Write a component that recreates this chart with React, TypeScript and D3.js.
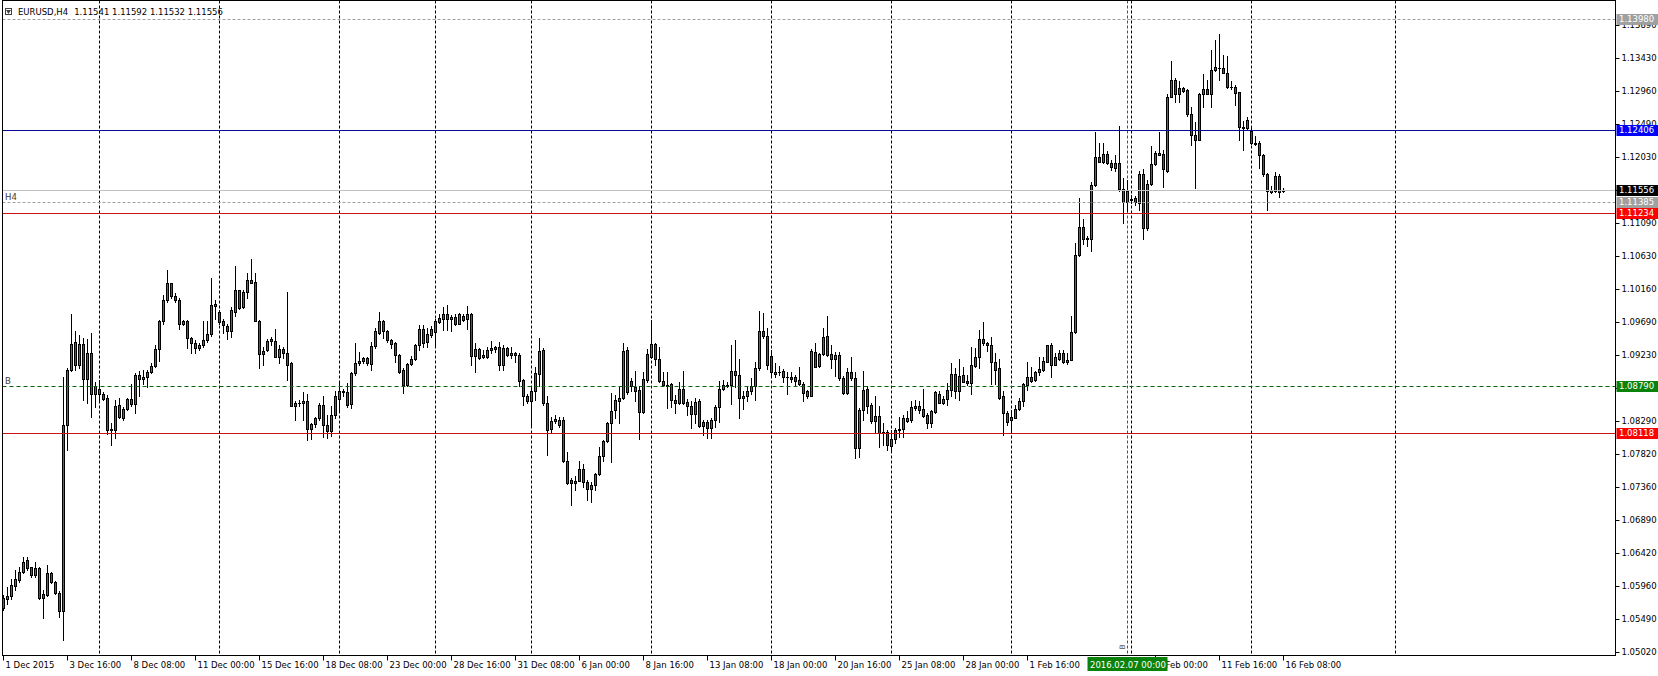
import React from "react";
import * as d3 from "d3";

const WIDTH = 1658;
const HEIGHT = 676;

const symbolName = "EURUSD,H4";
const lastQuote = [1.11541, 1.11592, 1.11532, 1.11556];

// H4 candles as [open, high, low, close], one list per trading week
const wkDec01 = [
  [1.0564, 1.0583, 1.0562, 1.0579], [1.0577, 1.0595, 1.0571, 1.0582], [1.0581, 1.0605, 1.0577, 1.0597],
  [1.0596, 1.0618, 1.059, 1.0605], [1.0604, 1.0623, 1.0601, 1.0615], [1.0615, 1.0637, 1.0614, 1.063],
  [1.0633, 1.0637, 1.0619, 1.0621], [1.0622, 1.0623, 1.0609, 1.0611], [1.0611, 1.063, 1.0609, 1.0621],
  [1.0621, 1.0622, 1.0578, 1.0579], [1.0579, 1.059, 1.055, 1.0584], [1.0583, 1.0626, 1.0582, 1.0614],
  [1.0614, 1.0616, 1.06, 1.0602], [1.0602, 1.0603, 1.0585, 1.0586], [1.0586, 1.0588, 1.0552, 1.056],
  [1.056, 1.0892, 1.052, 1.0824], [1.0823, 1.0904, 1.0788, 1.0901], [1.0901, 1.0981, 1.09, 1.0938],
  [1.0941, 1.0956, 1.0901, 1.0909], [1.0908, 1.0951, 1.0904, 1.0938], [1.0938, 1.0946, 1.0859, 1.0889],
  [1.0889, 1.0945, 1.0854, 1.0926], [1.0926, 1.0953, 1.0835, 1.0867], [1.0867, 1.0885, 1.0849, 1.0879],
];
const wkDec07 = [
  [1.0875, 1.0887, 1.0859, 1.0867], [1.0867, 1.087, 1.0859, 1.086], [1.0861, 1.0866, 1.0811, 1.0816],
  [1.0816, 1.0826, 1.0795, 1.0818], [1.0816, 1.0859, 1.0805, 1.085], [1.0852, 1.0861, 1.0834, 1.0835],
  [1.0834, 1.0849, 1.083, 1.0846], [1.0846, 1.0861, 1.0845, 1.086], [1.086, 1.0882, 1.0851, 1.0853],
  [1.0853, 1.0897, 1.084, 1.0894], [1.0894, 1.09, 1.0865, 1.0889], [1.0889, 1.0902, 1.0882, 1.0892],
  [1.0892, 1.0901, 1.0877, 1.0899], [1.0898, 1.0911, 1.0897, 1.0907], [1.0907, 1.0936, 1.0905, 1.0931],
  [1.0931, 1.0972, 1.0914, 1.097], [1.097, 1.1007, 1.0966, 1.1001], [1.1001, 1.1043, 1.0998, 1.1024],
  [1.1024, 1.1025, 1.1003, 1.1006], [1.1006, 1.101, 1.0998, 1.1], [1.1, 1.1003, 1.0959, 1.0967],
  [1.0967, 1.0972, 1.0965, 1.097], [1.097, 1.0972, 1.0932, 1.0946], [1.0946, 1.0948, 1.0925, 1.0939],
  [1.094, 1.0944, 1.0925, 1.0932], [1.0932, 1.0939, 1.0929, 1.0937], [1.0936, 1.097, 1.0934, 1.0944],
  [1.0944, 1.097, 1.0941, 1.0952], [1.0952, 1.1031, 1.095, 1.0993], [1.0992, 1.1, 1.0974, 1.0995],
];
const wkDec14 = [
  [1.0984, 1.0986, 1.0967, 1.0969], [1.0971, 1.0974, 1.0953, 1.0965], [1.0964, 1.0966, 1.0945, 1.0957],
  [1.0957, 1.0991, 1.0948, 1.0986], [1.0984, 1.1049, 1.0977, 1.1014], [1.1014, 1.1015, 1.0987, 1.0989],
  [1.0991, 1.1014, 1.0989, 1.1012], [1.1011, 1.1039, 1.1003, 1.1028], [1.1024, 1.1059, 1.1024, 1.1028],
  [1.1026, 1.1038, 1.097, 1.0971], [1.0971, 1.0972, 1.0904, 1.0924], [1.0928, 1.0934, 1.0908, 1.0924],
  [1.093, 1.0945, 1.0928, 1.0942], [1.0942, 1.0948, 1.0937, 1.0945], [1.0943, 1.0959, 1.0919, 1.092],
  [1.092, 1.0937, 1.0911, 1.0931], [1.0931, 1.0934, 1.0918, 1.0926], [1.0926, 1.1012, 1.0887, 1.0909],
  [1.0911, 1.0912, 1.085, 1.0851], [1.0851, 1.0857, 1.0831, 1.0854], [1.0854, 1.0859, 1.085, 1.0855],
  [1.0855, 1.087, 1.083, 1.0857], [1.0857, 1.0868, 1.0802, 1.0818], [1.0818, 1.0827, 1.0803, 1.0825],
  [1.0825, 1.0835, 1.0821, 1.0833], [1.0833, 1.0854, 1.0831, 1.0852], [1.0852, 1.0865, 1.0806, 1.0823],
  [1.0823, 1.0838, 1.0805, 1.0815], [1.0815, 1.085, 1.0808, 1.0837], [1.0837, 1.0871, 1.0833, 1.0865],
];
const wkDec21 = [
  [1.086, 1.0885, 1.0845, 1.0872], [1.0872, 1.0875, 1.0864, 1.087], [1.087, 1.0883, 1.0849, 1.0852],
  [1.0853, 1.0899, 1.0847, 1.0897], [1.0897, 1.0939, 1.0894, 1.0911], [1.0911, 1.0927, 1.0908, 1.0914],
  [1.0914, 1.092, 1.0911, 1.0918], [1.0918, 1.092, 1.0908, 1.0911], [1.091, 1.0941, 1.0901, 1.0935],
  [1.0935, 1.096, 1.0932, 1.0956], [1.0954, 1.0983, 1.0952, 1.0971], [1.0971, 1.0972, 1.0946, 1.0957],
  [1.0957, 1.0958, 1.0941, 1.0944], [1.0944, 1.0945, 1.0933, 1.0938], [1.0939, 1.0941, 1.0913, 1.0922],
  [1.0922, 1.0924, 1.0897, 1.0899], [1.0901, 1.0904, 1.0869, 1.088], [1.088, 1.0911, 1.0879, 1.091],
  [1.091, 1.0921, 1.0908, 1.0917], [1.0917, 1.0938, 1.0915, 1.0936], [1.0936, 1.0965, 1.093, 1.0959],
  [1.0959, 1.0965, 1.0934, 1.094], [1.0941, 1.096, 1.0934, 1.0952], [1.0951, 1.0963, 1.0948, 1.0959],
];
const wkDec28 = [
  [1.0955, 1.0974, 1.0934, 1.0971], [1.0969, 1.098, 1.0968, 1.0975], [1.0974, 1.0991, 1.0958, 1.098],
  [1.098, 1.0993, 1.0958, 1.0974], [1.0974, 1.0979, 1.0957, 1.0976], [1.0976, 1.0981, 1.0965, 1.0966],
  [1.0967, 1.0982, 1.0966, 1.098], [1.0978, 1.0981, 1.0971, 1.0972], [1.0973, 1.0992, 1.0959, 1.098],
  [1.098, 1.0982, 1.0908, 1.0921], [1.0921, 1.0939, 1.0898, 1.0931], [1.0931, 1.0932, 1.0917, 1.0918],
  [1.092, 1.0929, 1.0918, 1.0922], [1.092, 1.0934, 1.0918, 1.093], [1.093, 1.0943, 1.0925, 1.0932],
  [1.0931, 1.0935, 1.0927, 1.0934], [1.0934, 1.0941, 1.0901, 1.0908], [1.0909, 1.0937, 1.0901, 1.0932],
  [1.0932, 1.0934, 1.0921, 1.0922], [1.0923, 1.0934, 1.0918, 1.0925], [1.0925, 1.0927, 1.0912, 1.0922],
  [1.0922, 1.0925, 1.0878, 1.0886], [1.0887, 1.0888, 1.0852, 1.0864], [1.0865, 1.0867, 1.0854, 1.0858],
];
const wkJan04 = [
  [1.0857, 1.0878, 1.0824, 1.0872], [1.0872, 1.0906, 1.0859, 1.0897], [1.0896, 1.0946, 1.0878, 1.0928],
  [1.093, 1.0932, 1.0852, 1.0854], [1.0854, 1.0864, 1.0781, 1.0816], [1.0818, 1.0835, 1.0812, 1.0829],
  [1.0829, 1.0838, 1.0826, 1.0832], [1.0824, 1.0835, 1.0821, 1.0831], [1.0831, 1.0835, 1.0771, 1.0772],
  [1.0773, 1.0785, 1.074, 1.0741], [1.0746, 1.0748, 1.071, 1.0741], [1.0742, 1.0752, 1.0731, 1.0744],
  [1.0745, 1.0772, 1.0744, 1.0761], [1.0761, 1.0769, 1.0736, 1.0743], [1.0743, 1.0746, 1.0717, 1.0733],
  [1.0733, 1.0743, 1.0714, 1.0739], [1.0738, 1.0755, 1.0732, 1.0754], [1.0754, 1.0793, 1.0753, 1.078],
  [1.078, 1.0802, 1.0773, 1.0801], [1.0801, 1.0828, 1.08, 1.0827], [1.0826, 1.0869, 1.0771, 1.0844],
  [1.0845, 1.0866, 1.0833, 1.0859], [1.0858, 1.0878, 1.0826, 1.0861], [1.0861, 1.0939, 1.086, 1.0928],
  [1.093, 1.0934, 1.0868, 1.087], [1.0886, 1.089, 1.0872, 1.0878], [1.0877, 1.09, 1.0857, 1.0872],
  [1.0873, 1.0879, 1.0804, 1.0842], [1.0842, 1.0899, 1.084, 1.0888], [1.0887, 1.0931, 1.0885, 1.0924],
];
const wkJan11 = [
  [1.092, 1.0972, 1.0918, 1.0938], [1.0938, 1.0939, 1.0908, 1.0917], [1.0917, 1.0934, 1.0885, 1.0886],
  [1.0886, 1.0899, 1.0879, 1.088], [1.088, 1.0898, 1.0847, 1.0879], [1.0881, 1.0883, 1.0849, 1.0859],
  [1.0859, 1.0866, 1.084, 1.0854], [1.0854, 1.0885, 1.0853, 1.0874], [1.0874, 1.09, 1.0853, 1.0855],
  [1.0856, 1.086, 1.0838, 1.0851], [1.0851, 1.0857, 1.0819, 1.0839], [1.0839, 1.0861, 1.0826, 1.0856],
  [1.0858, 1.086, 1.0821, 1.0822], [1.0822, 1.0831, 1.0809, 1.0828], [1.0828, 1.0831, 1.0805, 1.0819],
  [1.0819, 1.0833, 1.0805, 1.0831], [1.0831, 1.0852, 1.082, 1.0849], [1.0849, 1.0886, 1.0828, 1.0874],
  [1.0874, 1.0887, 1.0873, 1.088], [1.0879, 1.0885, 1.0877, 1.088], [1.088, 1.0937, 1.0853, 1.09],
  [1.09, 1.0944, 1.0877, 1.0894], [1.0894, 1.0917, 1.0834, 1.0861], [1.0861, 1.0871, 1.0846, 1.0864],
  [1.0864, 1.0878, 1.0857, 1.0872], [1.0872, 1.089, 1.0868, 1.0879], [1.0879, 1.0913, 1.0859, 1.0904],
  [1.0904, 1.0985, 1.0901, 1.0957], [1.0957, 1.0982, 1.0947, 1.095], [1.095, 1.096, 1.0903, 1.0908],
];
const wkJan18 = [
  [1.0921, 1.093, 1.0893, 1.0898], [1.0895, 1.0911, 1.0892, 1.0899], [1.0899, 1.0907, 1.0894, 1.0898],
  [1.09, 1.0903, 1.0885, 1.0892], [1.0892, 1.0899, 1.0868, 1.0891], [1.0891, 1.0899, 1.0885, 1.0889],
  [1.0892, 1.0894, 1.0878, 1.0886], [1.0887, 1.0906, 1.088, 1.0882], [1.0882, 1.0885, 1.0858, 1.0869],
  [1.0865, 1.0873, 1.0861, 1.0871], [1.0865, 1.0931, 1.0864, 1.0928], [1.0927, 1.094, 1.0905, 1.0906],
  [1.0907, 1.0925, 1.0906, 1.0924], [1.0924, 1.096, 1.0922, 1.0948], [1.0949, 1.0977, 1.0921, 1.0923],
  [1.0924, 1.0937, 1.0904, 1.0917], [1.0917, 1.0927, 1.0893, 1.0922], [1.0922, 1.0927, 1.0887, 1.089],
  [1.089, 1.0893, 1.0867, 1.0869], [1.0869, 1.0904, 1.0868, 1.0898], [1.0898, 1.092, 1.0887, 1.089],
  [1.089, 1.0899, 1.0777, 1.0791], [1.0791, 1.0848, 1.0778, 1.0845], [1.0845, 1.09, 1.0831, 1.0873],
  [1.0874, 1.0878, 1.084, 1.085], [1.0852, 1.0854, 1.0826, 1.0829], [1.0829, 1.0864, 1.0814, 1.0836],
  [1.0836, 1.085, 1.0793, 1.0812], [1.0813, 1.0826, 1.0795, 1.0812], [1.0814, 1.0817, 1.0788, 1.0795],
];
const wkJan25 = [
  [1.0794, 1.0817, 1.0788, 1.0803], [1.0803, 1.0819, 1.0798, 1.0817], [1.0816, 1.0835, 1.0807, 1.0818],
  [1.0818, 1.0838, 1.0807, 1.0833], [1.0829, 1.0844, 1.0828, 1.0834], [1.083, 1.0857, 1.0828, 1.0849],
  [1.0847, 1.0859, 1.0845, 1.0851], [1.0851, 1.0857, 1.084, 1.0845], [1.0846, 1.0874, 1.0835, 1.0836],
  [1.0838, 1.084, 1.0819, 1.0826], [1.0826, 1.0845, 1.0821, 1.0843], [1.0842, 1.0871, 1.0841, 1.087],
  [1.0868, 1.0871, 1.0854, 1.0855], [1.0855, 1.0864, 1.0853, 1.086], [1.086, 1.0883, 1.0852, 1.0873],
  [1.0873, 1.0911, 1.0864, 1.0896], [1.0896, 1.0904, 1.0861, 1.0871], [1.0871, 1.0917, 1.0859, 1.0893],
  [1.0894, 1.0906, 1.0884, 1.0885], [1.0886, 1.0894, 1.088, 1.0883], [1.0883, 1.0934, 1.0868, 1.0908],
  [1.0907, 1.0932, 1.0906, 1.0919], [1.0919, 1.0958, 1.0904, 1.0945], [1.0945, 1.0969, 1.0937, 1.0939],
  [1.094, 1.0941, 1.0928, 1.0937], [1.0937, 1.0948, 1.0882, 1.0912], [1.0912, 1.0925, 1.0882, 1.0902],
  [1.0904, 1.0917, 1.086, 1.0861], [1.0864, 1.0871, 1.0809, 1.084], [1.0841, 1.0843, 1.0824, 1.0828],
];
const wkFeb01 = [
  [1.083, 1.0845, 1.0812, 1.0835], [1.0834, 1.0852, 1.0833, 1.0846], [1.0846, 1.0861, 1.0845, 1.0858],
  [1.0857, 1.0883, 1.085, 1.0882], [1.088, 1.0912, 1.0873, 1.0891], [1.0891, 1.0906, 1.0885, 1.0886],
  [1.0887, 1.09, 1.0886, 1.0898], [1.0898, 1.0919, 1.0894, 1.0903], [1.0901, 1.092, 1.09, 1.0914],
  [1.0913, 1.0937, 1.0912, 1.0936], [1.0936, 1.0939, 1.0892, 1.0908], [1.0909, 1.0925, 1.0908, 1.0919],
  [1.0917, 1.093, 1.0916, 1.0926], [1.0926, 1.093, 1.0911, 1.0912], [1.0912, 1.0925, 1.091, 1.0916],
  [1.0916, 1.0977, 1.0915, 1.0955], [1.0955, 1.1081, 1.0953, 1.1064], [1.1064, 1.1145, 1.1062, 1.1103],
  [1.1103, 1.1115, 1.1079, 1.1086], [1.1088, 1.1091, 1.1077, 1.1086], [1.1087, 1.1167, 1.107, 1.1163],
  [1.1163, 1.1238, 1.1161, 1.1202], [1.1202, 1.1222, 1.1195, 1.1196], [1.1196, 1.1222, 1.1194, 1.1207],
  [1.1207, 1.1211, 1.1193, 1.1194], [1.1194, 1.1199, 1.1184, 1.1188], [1.1187, 1.1206, 1.1183, 1.1194],
  [1.1194, 1.1246, 1.1154, 1.1158], [1.1158, 1.1173, 1.1109, 1.1139], [1.1139, 1.117, 1.1126, 1.1155],
];
const wkFeb08 = [
  [1.1143, 1.1149, 1.1137, 1.1142], [1.1145, 1.1147, 1.1135, 1.1139], [1.1138, 1.1183, 1.1128, 1.1179],
  [1.1179, 1.1185, 1.1086, 1.1102], [1.1102, 1.117, 1.11, 1.1165], [1.1164, 1.1218, 1.1163, 1.1193],
  [1.1192, 1.1211, 1.1191, 1.1208], [1.1206, 1.1238, 1.1205, 1.1208], [1.1207, 1.1213, 1.116, 1.1185],
  [1.1183, 1.1291, 1.1181, 1.1288], [1.1288, 1.1338, 1.1287, 1.1312], [1.1312, 1.1314, 1.128, 1.1291],
  [1.1291, 1.131, 1.128, 1.13], [1.13, 1.1302, 1.1295, 1.1296], [1.1297, 1.1299, 1.1261, 1.1264],
  [1.1264, 1.1273, 1.122, 1.1233], [1.1233, 1.1252, 1.1159, 1.1227], [1.1227, 1.1293, 1.1226, 1.1291],
  [1.1291, 1.132, 1.1273, 1.1299], [1.1299, 1.1312, 1.1291, 1.1292], [1.1292, 1.1354, 1.1274, 1.1325],
  [1.1325, 1.1368, 1.1324, 1.133], [1.1328, 1.1376, 1.1312, 1.1329], [1.1328, 1.1347, 1.1321, 1.1322],
  [1.1322, 1.1345, 1.13, 1.1302], [1.1302, 1.131, 1.1299, 1.1301], [1.1301, 1.1305, 1.1276, 1.1293],
  [1.1294, 1.1295, 1.1227, 1.1245], [1.1245, 1.1254, 1.1213, 1.1244], [1.1244, 1.1259, 1.1242, 1.1255],
];
const wkFeb15 = [
  [1.124, 1.1243, 1.1221, 1.1222], [1.1223, 1.1232, 1.122, 1.1221], [1.1223, 1.1225, 1.1187, 1.1206],
  [1.1206, 1.1207, 1.1175, 1.1178], [1.1178, 1.118, 1.1127, 1.1154], [1.1153, 1.1161, 1.1152, 1.1156],
  [1.1154, 1.1182, 1.1153, 1.1176], [1.1176, 1.1178, 1.1146, 1.1153], lastQuote,
];

const candles = [
  ...wkDec01, ...wkDec07, ...wkDec14, ...wkDec21, ...wkDec28, ...wkJan04,
  ...wkJan11, ...wkJan18, ...wkJan25, ...wkFeb01, ...wkFeb08, ...wkFeb15,
];

// time axis: a label every 16 bars
const barsPerLabel = 16;
const timeLabels = [
  "1 Dec 2015", "3 Dec 16:00", "8 Dec 08:00", "11 Dec 00:00", "15 Dec 16:00", "18 Dec 08:00",
  "23 Dec 00:00", "28 Dec 16:00", "31 Dec 08:00", "6 Jan 00:00", "8 Jan 16:00", "13 Jan 08:00",
  "18 Jan 00:00", "20 Jan 16:00", "25 Jan 08:00", "28 Jan 00:00", "1 Feb 16:00", "4 Feb 08:00",
  "9 Feb 00:00", "11 Feb 16:00", "16 Feb 08:00",
];
// bar index of each Monday 00:00 (vertical grid), last one is in the empty future area
const weekStartBars = [24, 54, 84, 108, 132, 162, 192, 222, 252, 282, 312, 348];

const priceTicks = [
  1.0502, 1.0549, 1.0596, 1.0642, 1.0689, 1.0736, 1.0782, 1.0829, 1.0876, 1.0923,
  1.0969, 1.1016, 1.1063, 1.1109, 1.1156, 1.1203, 1.1249, 1.1296, 1.1343, 1.1389,
];

// horizontal lines drawn on the chart
const levelPrices = [1.1398, 1.12406, 1.11556, 1.11385, 1.11234, 1.0879, 1.08118];
const levelNames = ["", "", "", "H4", "", "B", ""];

// vertical line object
const markerBar = 281;
const markerTime = "2016.02.07 00:00";
const markerName = "B";

const levelStyle = [
  { line: "#a0a0a0", dash: "3,2", box: "#a0a0a0" },
  { line: "#0a0a96", dash: "", box: "#0000ff" },
  { line: "#c0c0c0", dash: "", box: "#000000" },
  { line: "#a0a0a0", dash: "3,2", box: "#a0a0a0" },
  { line: "#c81414", dash: "", box: "#ff0000" },
  { line: "#0a640a", dash: "4,3", box: "#0a820a" },
  { line: "#c81414", dash: "", box: "#ff0000" },
];

const FONT = "'DejaVu Sans', Verdana, sans-serif";
const fmt = d3.format(".5f");

export default function App() {
  const plot = { left: 2.5, top: 0.5, right: 1615.5, bottom: 655.5 };
  const x = d3.scaleLinear().domain([0, 400]).range([3.5, 1603.5]);
  const y = d3.scaleLinear().domain([1.0502, 1.1389]).range([652.3, 25.2]);
  const snap = (v: number) => Math.round(v) + 0.5;

  const markerX = x(markerBar);
  const markerBox = { x0: markerX - 40, x1: markerX + 40 };

  return (
    <svg
      width={WIDTH}
      height={HEIGHT}
      style={{ position: "absolute", left: 0, top: 0, display: "block", background: "#fff" }}
      fontFamily={FONT}
      fontSize={8.5}
    >
      <rect x={0} y={0} width={WIDTH} height={HEIGHT} fill="#fff" />

      {/* weekly grid */}
      {weekStartBars.map((b) => (
        <line key={"g" + b} x1={x(b)} x2={x(b)} y1={plot.top} y2={plot.bottom}
          stroke="#000" strokeDasharray="3,2" />
      ))}
      <line x1={markerX} x2={markerX} y1={plot.top} y2={plot.bottom}
        stroke="#0a820a" strokeDasharray="3,2" />

      {/* candles */}
      {candles.map(([o, h, l, c], i) => {
        const cx = x(i);
        const up = c >= o;
        const yTop = snap(y(Math.max(o, c)));
        const yBot = snap(y(Math.min(o, c)));
        const yH = Math.round(y(h));
        const yL = Math.round(y(l)) + 1;
        return (
          <g key={i}>
            <rect x={cx - 0.5} y={yH} width={1} height={Math.max(1, yL - yH)} fill="#000" />
            {yBot - yTop >= 1 ? (
              <rect x={cx - 1} y={yTop} width={2} height={yBot - yTop}
                fill={up ? "#2a8a2a" : "#c02828"} stroke="#000" strokeWidth={1} />
            ) : (
              <line x1={cx - 1.5} x2={cx + 1.5} y1={yTop} y2={yTop} stroke="#000" />
            )}
          </g>
        );
      })}

      {/* horizontal levels */}
      {levelPrices.map((p, i) => {
        const yy = snap(y(p));
        const st = levelStyle[i];
        return (
          <g key={"l" + i}>
            <line x1={plot.left} x2={plot.right} y1={yy} y2={yy} stroke={st.line}
              strokeDasharray={st.dash || undefined} />
            {levelNames[i] && (
              <text x={5} y={yy - 3} fill="#3c3c3c">{levelNames[i]}</text>
            )}
          </g>
        );
      })}

      {/* frame */}
      <rect x={plot.left} y={plot.top} width={plot.right - plot.left} height={plot.bottom - plot.top}
        fill="none" stroke="#000" />

      {/* price axis */}
      {priceTicks.map((p) => {
        const yy = snap(y(p));
        return (
          <g key={"t" + p}>
            <line x1={plot.right} x2={plot.right + 4} y1={yy} y2={yy} stroke="#000" />
            <text x={plot.right + 6} y={yy} dy="0.35em" fill="#000">{fmt(p)}</text>
          </g>
        );
      })}
      {levelPrices.map((p, i) => {
        const yy = y(p);
        return (
          <g key={"b" + i}>
            <rect x={plot.right + 1} y={Math.round(yy) - 5} width={WIDTH - plot.right} height={11}
              fill={levelStyle[i].box} />
            <text x={plot.right + 3.5} y={Math.round(yy) + 0.5} dy="0.35em" fill="#fff">{fmt(p)}</text>
          </g>
        );
      })}

      {/* time axis; labels fully under the marker box are not visible */}
      {timeLabels.map((t, k) => {
        const xx = x(k * barsPerLabel);
        if (xx >= markerBox.x0 && xx <= markerX) return null;
        return (
          <g key={"x" + k}>
            <line x1={xx} x2={xx} y1={plot.bottom} y2={plot.bottom + 5} stroke="#000" />
            <text x={xx + 2} y={667.5} fill="#000">{t}</text>
          </g>
        );
      })}
      <rect x={markerBox.x0} y={657} width={markerBox.x1 - markerBox.x0} height={14} fill="#0a820a" />
      <text x={markerBox.x0 + 2.5} y={667.5} fill="#fff">{markerTime}</text>
      <text transform={`translate(${markerX - 3},${plot.bottom - 6}) rotate(-90)`}
        fill="#505050" fontSize={7.5}>{markerName}</text>

      {/* title */}
      <g transform="translate(5,8)">
        <rect x={0.5} y={0.5} width={6} height={6} fill="none" stroke="#404040" />
        <path d="M1,2 L6,2 L3.5,6 Z" fill="#404040" />
      </g>
      <text x={18} y={14.5} fill="#000">
        {symbolName}
        <tspan dx={6}>{lastQuote.map((v) => fmt(v)).join(" ")}</tspan>
      </text>
    </svg>
  );
}
